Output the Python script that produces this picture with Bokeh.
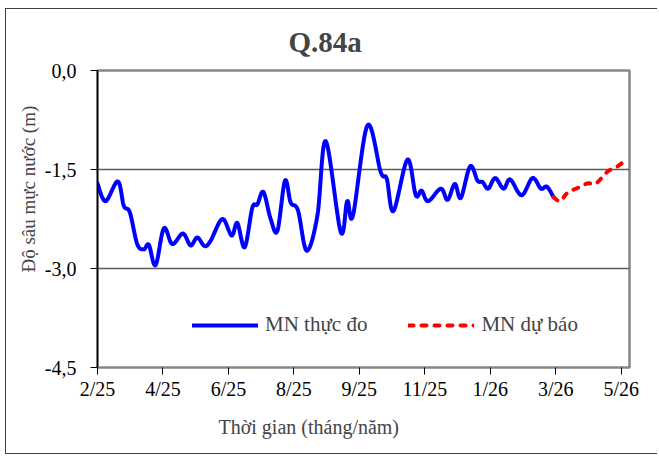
import numpy as np
from bokeh.plotting import figure
from bokeh.models import Range1d, FixedTicker, Legend, LegendItem, Title
from bokeh.embed import file_html
from bokeh.resources import INLINE

# ---- data (time index: 10 units per labelled tick) ----
obs_t = [0.0, 1.22, 3.10, 4.02, 4.94, 6.07, 7.08, 7.84, 8.87, 10.14, 11.42, 13.04, 14.22,
         15.24, 16.36, 17.28, 19.07, 20.49, 21.36, 22.48, 23.65, 24.42, 25.34, 26.45,
         27.48, 28.64, 29.51, 30.63, 31.96, 33.59, 34.86, 37.16, 38.15, 39.02, 41.24,
         43.27, 44.19, 45.21, 47.35, 48.62, 49.50, 50.50, 52.45, 53.47, 54.59, 55.50,
         56.93, 58.06, 58.82, 59.68, 60.75, 62.03, 63.04, 64.79, 66.45, 67.74, 68.65, 69.68]
obs_v = [-1.71, -1.98, -1.68, -2.05, -2.15, -2.63, -2.71, -2.64, -2.95, -2.39, -2.63, -2.47,
         -2.65, -2.53, -2.66, -2.58, -2.25, -2.50, -2.31, -2.68, -2.08, -2.03, -1.84, -2.25,
         -2.43, -1.67, -2.00, -2.12, -2.73, -2.20, -1.07, -2.45, -1.98, -2.20, -0.83, -1.54,
         -1.64, -2.13, -1.35, -1.89, -1.82, -1.98, -1.79, -1.96, -1.72, -1.93, -1.45, -1.67,
         -1.69, -1.79, -1.63, -1.79, -1.65, -1.89, -1.63, -1.79, -1.76, -1.92]
fc_t = [69.68, 70.69, 71.82, 73.59, 74.88, 76.15, 77.94, 79.05, 80.81]
fc_v = [-1.92, -1.98, -1.85, -1.77, -1.71, -1.71, -1.53, -1.48, -1.35]

tick_pos = [0, 10, 20, 30, 40, 50, 60, 70, 80]
tick_labels = ["2/25", "4/25", "6/25", "8/25", "9/25", "11/25", "1/26", "3/26", "5/26"]
y_ticks = [0, -1.5, -3, -4.5]
y_tick_labels = ["0,0", "-1,5", "-3,0", "-4,5"]

title_text = "Q.84a"
x_title = "Thời gian (tháng/năm)"
y_title = "Độ sâu mực nước (m)"
obs_name = "MN thực đo"
fc_name = "MN dự báo"

FONT = "Liberation Serif"


def smooth(t, v, n=14):
    """Smoothed-line rendering (Bezier through the points, like a spreadsheet smoothed line)."""
    P = np.column_stack([np.asarray(t, float), np.asarray(v, float)])
    ext = np.vstack([P[0], P, P[-1]])
    out = []
    m = len(P) - 1
    for i in range(m):
        p0, p1, p2, p3 = ext[i], ext[i + 1], ext[i + 2], ext[i + 3]
        c1 = p1 + (p2 - p0) / 6.0
        c2 = p2 - (p3 - p1) / 6.0
        for u in np.linspace(0, 1, n, endpoint=(i == m - 1)):
            out.append((1 - u) ** 3 * p1 + 3 * (1 - u) ** 2 * u * c1
                       + 3 * (1 - u) * u ** 2 * c2 + u ** 3 * p2)
    out = np.array(out)
    return out[:, 0], out[:, 1]


p = figure(width=652, height=446,
           x_range=Range1d(0, 81.27), y_range=Range1d(-4.5, 0),
           output_backend="svg", toolbar_location=None,
           min_border_left=91, min_border_right=29, min_border_top=61, min_border_bottom=88)
p.styles = {"margin-left": "5px", "margin-top": "8px",
            "border-left": "1px solid #404040", "border-top": "1px solid #404040",
            "border-bottom": "1px solid #404040"}

p.background_fill_color = "white"
p.border_fill_color = "white"
p.outline_line_color = "#868686"
p.outline_line_width = 2.5

# title (placed over the chart area centre)
p.title.text = title_text
p.title.text_font = FONT
p.title.text_font_size = "29px"
p.title.text_font_style = "bold"
p.title.align = "left"
p.title.offset = 191
p.title.standoff = 25

# axes
p.xaxis.ticker = FixedTicker(ticks=tick_pos)
p.xaxis.major_label_overrides = dict(zip(tick_pos, tick_labels))
p.yaxis.ticker = FixedTicker(ticks=y_ticks)
p.yaxis.major_label_overrides = dict(zip(y_ticks, y_tick_labels))
for ax in (p.xaxis[0], p.yaxis[0]):
    ax.major_label_text_font = FONT
    ax.major_label_text_font_size = "20px"
    ax.major_label_text_color = "black"
    ax.major_tick_line_color = "black"
    ax.major_tick_line_width = 1
    ax.major_tick_out = 7
    ax.major_tick_in = 0
    ax.minor_tick_line_color = None
p.xaxis.axis_line_color = None
p.xaxis.major_label_standoff = 3
p.yaxis.axis_line_color = "black"
p.yaxis.axis_line_width = 1.5
p.yaxis.major_label_standoff = 14

p.xgrid.grid_line_color = None
p.ygrid.grid_line_color = "#5a5a5a"
p.ygrid.grid_line_width = 1.5

# axis titles
p.add_layout(Title(text=x_title, text_font=FONT, text_font_size="20px",
                   text_font_style="normal", align="left", offset=121, standoff=23), "below")
p.add_layout(Title(text=y_title, text_font=FONT, text_font_size="19px",
                   text_font_style="normal", align="left", offset=95, standoff=6), "left")

# lines
sx, sy = smooth(obs_t, obs_v)
r_obs = p.line(sx, sy, line_color="#0000FF", line_width=4, line_join="round", line_cap="round")
fx, fy = smooth(fc_t, fc_v)
r_fc = p.line(fx, fy, line_color="#FF0000", line_width=4, line_dash="5 8", line_cap="round")

legend = Legend(items=[LegendItem(label=obs_name, renderers=[r_obs]),
                       LegendItem(label=fc_name, renderers=[r_fc])],
                orientation="horizontal", location=(95, 30),
                border_line_color=None, background_fill_alpha=0,
                glyph_width=66, glyph_height=20, label_height=20,
                label_text_font=FONT, label_text_font_size="21px",
                label_standoff=7, spacing=41, padding=0, margin=0)
p.add_layout(legend)

open("out.html", "w").write(file_html(p, INLINE))
